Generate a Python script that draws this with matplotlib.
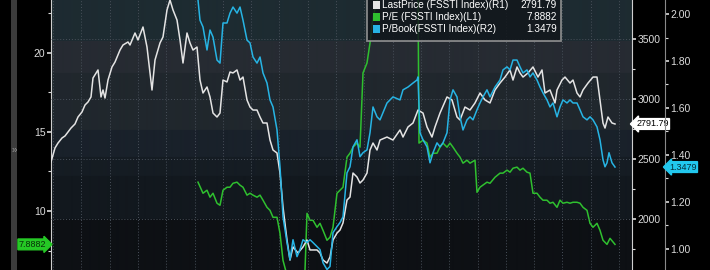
import numpy as np
import matplotlib.pyplot as plt
import matplotlib.transforms as mtransforms
from matplotlib.patches import Rectangle

plt.rcParams['font.family'] = ['Liberation Sans Narrow', 'Liberation Sans', 'DejaVu Sans']

# ---- data (x = trading-day index) ----
price_x = [0, 4, 7, 11, 14, 17, 20, 24, 27, 31, 34, 37, 40, 42, 47, 50, 52, 54, 57, 61,
           64, 69, 72, 77, 79, 84, 87, 92, 96, 101, 104, 109, 112, 116, 119, 122, 126, 129, 132, 136,
           139, 142, 146, 149, 152, 156, 159, 162, 166, 169, 172, 176, 179, 182, 186, 189, 192, 196, 199, 202,
           206, 209, 212, 216, 219, 222, 226, 229, 232, 236, 239, 242, 247, 252, 256, 259, 266, 269, 272, 276,
           279, 282, 286, 289, 292, 296, 299, 302, 306, 309, 312, 316, 319, 322, 326, 329, 336, 342, 349, 352,
           357, 362, 367, 372, 376, 381, 384, 389, 396, 401, 406, 409, 414, 419, 424, 429, 434, 439, 444, 449,
           454, 459, 462, 466, 469, 472, 477, 482, 487, 491, 494, 499, 504, 506, 511, 514, 519, 522, 526, 529,
           532, 537, 542, 546, 549, 552, 554, 557, 561, 564]
price = [2475, 2592, 2633, 2675, 2692, 2725, 2758, 2792, 2850, 2892, 2950, 2975, 3017, 3175, 3242, 3017, 3075, 3008, 3158, 3267,
         3308, 3408, 3450, 3475, 3450, 3550, 3492, 3600, 3433, 3075, 3325, 3467, 3517, 3742, 3825, 3742, 3658, 3492, 3300, 3550,
         3467, 3408, 3433, 3158, 3050, 3100, 3017, 2883, 2850, 2883, 3158, 3142, 3225, 3217, 3242, 3158, 3183, 2992, 2933, 2908,
         2908, 2850, 2800, 2800, 2658, 2575, 2550, 2383, 2100, 1825, 1658, 1767, 1717, 1767, 1825, 1742, 1742, 1717, 1658, 1633,
         1683, 1825, 1883, 1908, 1967, 2158, 2183, 2383, 2350, 2300, 2325, 2383, 2575, 2633, 2575, 2658, 2683, 2658, 2742, 2683,
         2767, 2800, 2908, 2883, 2767, 2683, 2767, 2883, 3017, 2992, 2850, 2825, 2933, 2908, 2967, 3050, 2992, 2967, 3075, 3133,
         3183, 3242, 3158, 3267, 3217, 3183, 3217, 3267, 3183, 3242, 3050, 3075, 2967, 3075, 3158, 3183, 3133, 3158, 3050, 3017,
         3075, 3133, 3183, 3183, 2992, 2800, 2758, 2850, 2800, 2791.79]

pb_x = [146, 147, 149, 152, 156, 159, 162, 166, 169, 172, 176, 179, 182, 186, 189, 192, 196, 199, 202, 206,
        209, 212, 216, 219, 222, 226, 229, 232, 236, 239, 242, 246, 249, 252, 256, 259, 262, 266, 269, 272,
        276, 279, 282, 286, 289, 292, 296, 299, 302, 306, 309, 312, 316, 319, 322, 326, 329, 336, 342, 349,
        352, 357, 362, 366, 367, 369, 372, 376, 379, 382, 386, 389, 392, 396, 399, 402, 406, 409, 412, 416,
        419, 422, 426, 429, 432, 436, 439, 444, 449, 452, 456, 459, 462, 466, 469, 472, 476, 479, 482, 486,
        489, 492, 496, 499, 502, 506, 509, 512, 516, 519, 522, 526, 529, 532, 536, 539, 542, 546, 549, 552,
        554, 556, 558, 561, 564]
pb = [2.102, 2.060, 1.974, 1.945, 1.847, 1.932, 1.902, 1.804, 1.791, 1.962, 1.962, 2.004, 2.030, 2.004, 2.030, 1.974, 1.889, 1.877, 1.817, 1.791,
      1.817, 1.749, 1.706, 1.634, 1.604, 1.506, 1.349, 1.136, 1.026, 0.953, 1.038, 0.966, 0.996, 1.038, 1.026, 1.038, 1.026, 1.009, 0.996, 0.940,
      0.911, 0.924, 1.068, 1.094, 1.111, 1.136, 1.323, 1.349, 1.434, 1.464, 1.392, 1.409, 1.421, 1.494, 1.604, 1.562, 1.549, 1.621, 1.647, 1.634,
      1.677, 1.689, 1.706, 1.719, 1.732, 1.494, 1.464, 1.434, 1.366, 1.409, 1.451, 1.434, 1.451, 1.494, 1.634, 1.677, 1.647, 1.562, 1.506, 1.549,
      1.562, 1.549, 1.592, 1.621, 1.647, 1.677, 1.647, 1.689, 1.719, 1.762, 1.775, 1.762, 1.804, 1.804, 1.775, 1.749, 1.762, 1.732, 1.749, 1.719,
      1.689, 1.664, 1.634, 1.604, 1.621, 1.562, 1.604, 1.634, 1.621, 1.634, 1.621, 1.621, 1.592, 1.562, 1.549, 1.562, 1.549, 1.519, 1.464, 1.379,
      1.349, 1.366, 1.409, 1.366, 1.3479]

pe_x = [147, 152, 156, 159, 162, 166, 169, 172, 176, 179, 182, 186, 189, 192, 196, 199, 202, 206, 209, 212,
        216, 219, 222, 226, 229, 232, 236, 242, 249, 254, 256, 259, 262, 266, 269, 272, 276, 279, 282, 286,
        289, 292, 296, 299, 302, 306, 309, 312, 316, 319, 322, 325, 329, 339, 354, 366, 367, 368, 372, 376,
        379, 382, 386, 389, 392, 396, 399, 402, 406, 409, 412, 416, 419, 424, 426, 429, 436, 439, 444, 449,
        452, 456, 459, 462, 466, 469, 472, 476, 479, 482, 486, 489, 492, 496, 499, 502, 506, 509, 512, 516,
        519, 522, 526, 529, 532, 536, 539, 542, 546, 549, 552, 556, 559, 564]
pe = [11.82, 11.12, 11.31, 10.87, 11.12, 10.49, 10.36, 11.31, 11.50, 11.50, 11.75, 11.82, 11.63, 11.50, 11.00, 11.12, 11.00, 10.87, 11.00, 10.68,
      10.23, 10.04, 9.60, 9.60, 8.59, 6.88, 5.93, 6.12, 5.74, 6.25, 9.85, 9.41, 9.41, 8.97, 9.22, 8.78, 8.15, 8.34, 8.97, 11.12,
      11.31, 11.50, 13.40, 13.65, 14.03, 14.29, 14.03, 18.72, 19.35, 20.61, 22.26, 23.02, 23.97, 25.9, 26.5, 25.2, 23.97, 14.29, 14.47, 14.29,
      13.40, 13.65, 13.65, 14.03, 14.29, 14.03, 14.29, 14.03, 13.65, 13.40, 13.02, 13.21, 13.02, 13.21, 11.18, 11.50, 11.82, 11.75, 12.13, 12.39,
      12.39, 12.58, 12.45, 12.70, 12.77, 12.58, 12.70, 12.45, 12.39, 11.12, 11.12, 10.87, 10.68, 10.68, 10.49, 10.55, 10.23, 10.68, 10.49, 10.55,
      10.49, 10.55, 10.55, 10.49, 10.23, 10.04, 9.22, 8.97, 9.22, 8.78, 8.15, 7.89, 8.27, 7.8882]

names = ['LastPrice (FSSTI Index)(R1)', 'P/E (FSSTI Index)(L1)', 'P/Book(FSSTI Index)(R2)']
last_vals = ['2791.79', '7.8882', '1.3479']
pe_ticks = [10, 15, 20]
price_ticks = [2000, 2500, 3000, 3500]
pb_ticks = [1.0, 1.2, 1.4, 1.6, 1.8, 2.0]

white = '#e4e4e4'
green = '#2fc02f'
cyan = '#27b4e4'
tickc = '#dcdcdc'

fig = plt.figure(figsize=(7.1, 2.7), dpi=100, facecolor='black')
ax = fig.add_axes([51 / 710, 0, 581 / 710, 1])
ax.set_xlim(0, 581)
ax.set_ylim(6.27, 23.33)

# banded dark background
bands = [(0.00, '#1d2b31'), (0.15, '#262b32'), (0.27, '#20272d'), (0.48, '#19212a'),
         (0.58, '#151c23'), (0.65, '#12181e'), (0.81, '#0d1014'), (1.00, '#0a0c0f')]
rows = 270
img = np.zeros((rows, 1, 3))
for i in range(rows):
    f = i / rows
    c = bands[0][1]
    for pos, col in bands:
        if f >= pos:
            c = col
    img[i, 0] = [int(c[k:k + 2], 16) / 255 for k in (1, 3, 5)]
ax.imshow(img, extent=[0, 1, 0, 1], transform=ax.transAxes, aspect='auto', zorder=0,
          interpolation='bilinear')

ax1 = ax.twinx()
ax1.set_ylim(1575, 3825)
ax2 = ax.twinx()
ax2.set_ylim(0.909, 2.06)
ax2.spines['right'].set_position(('axes', 1 + 33 / 581))

# grid
ax.set_xticks(np.arange(2, 581, 28.3))
ax.tick_params(axis='x', length=0, labelbottom=False)
ax.grid(axis='x', color='#48505a', ls=(0, (1, 2)), lw=0.7)
ax1.set_yticks(price_ticks)
ax1.grid(axis='y', color='#48505a', ls=(0, (1, 2)), lw=0.7)

ax.plot(pe_x, pe, color=green, lw=1.1, zorder=3)
ax1.plot(price_x, price, color=white, lw=1.1)
ax2.plot(pb_x, pb, color=cyan, lw=1.1)

for a in (ax, ax1, ax2):
    for s in a.spines.values():
        s.set_visible(False)
ax.spines['left'].set_visible(True)
ax.spines['left'].set_color('#cfcfcf')
ax1.spines['right'].set_visible(True)
ax1.spines['right'].set_color('#cfcfcf')
ax2.spines['right'].set_visible(True)
ax2.spines['right'].set_color('#8a8a8a')

ax.set_yticks(pe_ticks)
ax.set_yticks([7.5, 12.5, 17.5, 22.5], minor=True)
ax1.set_yticks([1750, 2250, 2750, 3250], minor=True)
ax2.set_yticks(pb_ticks)
ax2.set_yticklabels(['%.2f' % v for v in pb_ticks])
ax2.set_yticks([1.1, 1.3, 1.5, 1.7, 1.9], minor=True)
for a in (ax, ax1, ax2):
    a.tick_params(axis='y', which='major', colors=tickc, labelsize=7.5, length=3, width=1.2, pad=1)
    a.tick_params(axis='y', which='minor', colors=tickc, length=2, width=0.8)

# last value tags
tl = mtransforms.blended_transform_factory(ax.transAxes, ax.transData)
ax.text(-0.008, pe[-1], last_vals[1], transform=tl, ha='right', va='center', fontsize=6.5,
        color='#083008', bbox=dict(boxstyle='rarrow,pad=0.1', fc='#25c825', ec='#25c825'), clip_on=False)
t1 = mtransforms.blended_transform_factory(ax1.transAxes, ax1.transData)
ax1.text(1.007, price[-1], last_vals[0], transform=t1, ha='left', va='center', fontsize=6.5,
         color='black', bbox=dict(boxstyle='larrow,pad=0.1', fc='white', ec='white'), clip_on=False)
t2 = mtransforms.blended_transform_factory(ax2.transAxes, ax2.transData)
ax2.text(1 + 33 / 581 + 0.007, pb[-1], last_vals[2], transform=t2, ha='left', va='center', fontsize=6.5,
         color='#06303c', bbox=dict(boxstyle='larrow,pad=0.1', fc='#22c8ee', ec='#22c8ee'), clip_on=False)

# legend box
lx0, lx1 = (367 - 51) / 581, (561 - 51) / 581
ax2.add_patch(Rectangle((lx0, 1 - 41 / 270), lx1 - lx0, 0.2, transform=ax2.transAxes,
                        fc='#12161b', ec='#9a9a9a', lw=1.3, alpha=0.85, zorder=5, clip_on=False))
for i, (nm, v, c) in enumerate(zip(names, last_vals, [white, green, cyan])):
    yy = 1 - (5 + 12 * i) / 270
    ax2.add_patch(Rectangle(((373 - 51) / 581, yy - 4 / 270), 7 / 581, 8 / 270, transform=ax2.transAxes,
                            fc=c, ec='none', zorder=6))
    ax2.text((382 - 51) / 581, yy, nm, transform=ax2.transAxes, color='white', fontsize=7.2,
             va='center', ha='left', zorder=6)
    ax2.text((557 - 51) / 581, yy, v, transform=ax2.transAxes, color='white', fontsize=7.2,
             va='center', ha='right', zorder=6)

# left splitter bar
fig.patches.append(Rectangle((11 / 710, 0), 6 / 710, 1, transform=fig.transFigure,
                             fc='#3c3c3c', ec='none'))
fig.text(14 / 710, 1 - 150 / 270, '»', color='#9a9a9a', fontsize=7, ha='center', va='center')

fig.savefig('out.png', dpi=100, facecolor='black')
